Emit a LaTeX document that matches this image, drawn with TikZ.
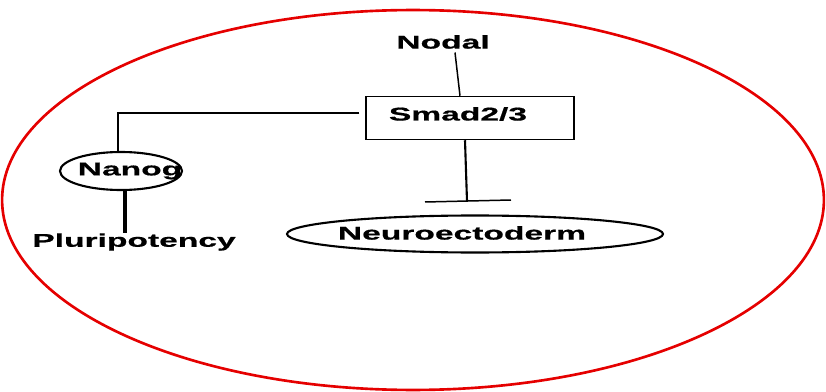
\documentclass[tikz,border=0pt]{standalone}
\usepackage{fontspec}
\newfontfamily\lblfont[FakeStretch=1.82,BoldFeatures={FakeBold=0.6}]{Liberation Sans}
\usetikzlibrary{shapes.geometric}

\begin{document}
\begin{tikzpicture}[x=0.02cm,y=-0.02cm,line width=0.85pt,
  lbl/.style={font=\lblfont\bfseries\fontsize{10.5}{12}\selectfont,inner sep=0pt},
  oval/.style={draw,ellipse,line width=1.2pt,inner sep=0pt}]
  \useasboundingbox (0,0) rectangle (826,392);
  \draw[line width=1.5pt,red!90!black] (413,200) ellipse (8.22cm and 3.8cm);
  \node[lbl] (nodal) at (443,42){Nodal};
  \node[draw,minimum width=4.16cm,minimum height=0.86cm] (smad) at (470,118){};
  \node[lbl] (smadtxt) at (458,114){Smad2/3};
  \node[oval,minimum width=2.44cm,minimum height=0.76cm] (nanog) at (121,171){};
  \node[lbl] (nanogtxt) at (130,171){Nanog};
  \node[lbl] (pluri) at (134,242){Pluripotency};
  \node[oval,minimum width=7.52cm,minimum height=0.74cm] (neuro) at (475,234){};
  \node[lbl] (neurotxt) at (462,233){Neuroectoderm};
  \coordinate (bar) at (467,201);
  \draw (nodal.south) ++(12,3) -- (smad.north -| 460,0);
  \draw (smad.west) ++(-6,-5) -| (nanog.north -| 118,0);
  \draw[line width=2.2pt] (nanog.south -| 125,0) -- (pluri.north -| 125,0);
  \draw[line width=1.2pt] (smad.south -| 465,0) -- (bar);
  \draw (bar) ++(-42,1) -- ++(86,-2);
\end{tikzpicture}
\end{document}
